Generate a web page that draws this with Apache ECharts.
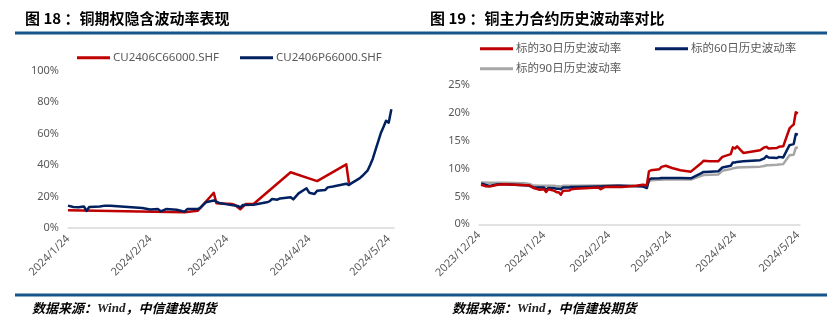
<!DOCTYPE html>
<html><head><meta charset="utf-8">
<script src="https://cdn.jsdelivr.net/npm/echarts@6/dist/echarts.min.js"></script>
<style>html,body{margin:0;padding:0;background:#fff}#c{width:836px;height:330px}</style>
</head><body><div id="c"></div>
<script>
// ---- Left chart: implied volatility of copper options (%)
const callDates = ['2024-01-24','2024-02-20','2024-03-08','2024-03-13','2024-03-19','2024-03-20','2024-03-26','2024-03-27','2024-03-29','2024-03-31','2024-04-03','2024-04-17','2024-04-27','2024-05-08','2024-05-09'];
const callIV    = [11.2, 10.5, 10.0, 11.0, 22.4, 15.7, 15.2, 14.6, 11.9, 15.2, 15.2, 35.4, 29.8, 40.4, 28.4];

const putDates = ['2024-01-24','2024-01-26','2024-01-28','2024-01-30','2024-01-31','2024-02-01','2024-02-05','2024-02-07','2024-02-09','2024-02-21','2024-02-24','2024-02-27','2024-02-28','2024-03-01','2024-03-05','2024-03-08','2024-03-09','2024-03-13','2024-03-14','2024-03-16','2024-03-19','2024-03-21','2024-03-24','2024-03-28','2024-03-29','2024-03-30','2024-04-03','2024-04-08','2024-04-09','2024-04-10','2024-04-12','2024-04-13','2024-04-17','2024-04-18','2024-04-20','2024-04-23','2024-04-24','2024-04-26','2024-04-27','2024-04-30','2024-05-01','2024-05-03','2024-05-08','2024-05-09','2024-05-10','2024-05-13','2024-05-14','2024-05-16','2024-05-17','2024-05-18','2024-05-19','2024-05-21','2024-05-22','2024-05-23','2024-05-24','2024-05-25'];
const putIV    = [14.2, 13.3, 13.2, 13.7, 10.8, 13.3, 13.7, 14.2, 14.1, 12.7, 11.8, 12.0, 10.6, 12.0, 11.6, 10.4, 12.0, 12.0, 12.9, 16.3, 17.5, 15.9, 15.0, 14.0, 13.1, 14.6, 14.8, 16.3, 16.9, 18.4, 18.0, 18.8, 19.5, 18.2, 22.0, 25.2, 22.4, 21.6, 23.7, 24.1, 25.8, 26.4, 28.1, 27.3, 28.5, 31.5, 33.0, 36.4, 40.0, 44.0, 49.5, 60.1, 64.0, 68.1, 66.9, 75.4];

const leftTicks = ['2024-01-24','2024-02-24','2024-03-24','2024-04-24','2024-05-24'];

// ---- Right chart: historical volatility of main copper contract (%)
const hvDates = ['2023-12-25','2023-12-27','2023-12-29','2024-01-02','2024-01-05','2024-01-10','2024-01-15','2024-01-17','2024-01-19','2024-01-22','2024-01-24','2024-01-25','2024-01-26','2024-01-29','2024-01-30','2024-01-31','2024-02-01','2024-02-02','2024-02-05','2024-02-06','2024-02-08','2024-02-19','2024-02-20','2024-02-22','2024-02-28','2024-03-01','2024-03-08','2024-03-11','2024-03-13','2024-03-14','2024-03-15','2024-03-19','2024-03-20','2024-03-22','2024-03-25','2024-03-29','2024-04-03','2024-04-08','2024-04-09','2024-04-12','2024-04-16','2024-04-18','2024-04-22','2024-04-23','2024-04-24','2024-04-25','2024-04-28','2024-05-06','2024-05-08','2024-05-09','2024-05-10','2024-05-14','2024-05-15','2024-05-17','2024-05-20','2024-05-21','2024-05-22','2024-05-23','2024-05-24'];
const hv30 = [7.1, 6.85, 6.8, 7.1, 7.2, 7.1, 7.0, 7.0, 6.5, 6.2, 6.3, 5.8, 6.3, 6.0, 5.75, 5.75, 5.3, 6.0, 6.05, 6.3, 6.4, 6.6, 6.3, 6.7, 6.75, 6.7, 6.9, 7.1, 7.0, 9.5, 9.7, 9.9, 10.3, 10.5, 10.1, 9.7, 9.45, 11.0, 11.4, 11.3, 11.3, 12.1, 12.6, 13.8, 13.6, 14.0, 12.8, 13.3, 13.8, 13.9, 13.6, 13.7, 13.9, 14.0, 17.2, 17.6, 17.9, 20.1, 19.9];
const hv60 = [7.35, 7.1, 6.9, 7.2, 7.2, 7.1, 7.0, 6.9, 6.6, 6.6, 6.6, 6.2, 6.5, 6.45, 6.4, 6.4, 6.3, 6.6, 6.6, 6.7, 6.7, 6.8, 6.8, 6.85, 6.9, 6.9, 6.85, 6.8, 6.5, 8.0, 8.2, 8.25, 8.3, 8.3, 8.3, 8.3, 8.25, 9.2, 9.4, 9.45, 9.5, 10.2, 10.5, 11.1, 11.1, 11.2, 11.3, 11.5, 11.85, 12.25, 12.0, 11.9, 12.1, 12.0, 14.2, 14.3, 14.4, 16.2, 16.1];
const hv90 = [7.5, 7.5, 7.45, 7.45, 7.45, 7.4, 7.35, 7.25, 6.95, 6.9, 6.9, 6.9, 6.9, 6.9, 6.85, 6.85, 6.8, 6.9, 6.9, 6.9, 6.9, 6.95, 6.95, 7.0, 7.0, 6.95, 6.9, 6.9, 6.7, 7.7, 7.9, 8.0, 8.0, 8.05, 8.05, 8.05, 8.05, 8.7, 8.85, 8.9, 8.95, 9.6, 9.9, 10.05, 10.1, 10.2, 10.25, 10.35, 10.45, 10.6, 10.6, 10.7, 10.75, 10.8, 12.4, 12.45, 12.5, 13.75, 13.8];

const rightTicks = ['2023-12-24','2024-01-24','2024-02-24','2024-03-24','2024-04-24','2024-05-24'];

const titles = ['图 18 ：铜期权隐含波动率表现', '图 19 ：铜主力合约历史波动率对比'];
const seriesNames = ['CU2406C66000.SHF', 'CU2406P66000.SHF', '标的30日历史波动率', '标的60日历史波动率', '标的90日历史波动率'];

function ts(s) { const p = s.split('-'); return new Date(+p[0], +p[1] - 1, +p[2]).getTime(); }
function pairs(d, v) { return d.map((x, i) => [ts(x), v[i]]); }
function fmt(v) { const d = new Date(v); return d.getFullYear() + '/' + (d.getMonth() + 1) + '/' + d.getDate(); }

const FONT = '"Noto Sans", "Noto Sans CJK SC", sans-serif';
const CJK = '"Noto Sans CJK SC", sans-serif';
const GREY = '#595959';
const RED = '#C00000', NAVY = '#002060', LGREY = '#A6A6A6';
const BAR = '#17568A';

function xAx(gi, min, max, ticks) {
  return {
    type: 'value', gridIndex: gi, min: ts(min), max: ts(max), scale: true,
    axisLine: { show: true, onZero: false, lineStyle: { color: '#D9D9D9', width: 1.5 } },
    axisTick: { show: false }, splitLine: { show: false },
    axisLabel: { customValues: ticks.map(ts), formatter: fmt, rotate: 45, color: GREY, fontSize: 11, fontFamily: FONT, margin: 9, hideOverlap: false, showMinLabel: true, showMaxLabel: true }
  };
}
function yAx(gi, max, interval) {
  return {
    type: 'value', gridIndex: gi, min: 0, max: max, interval: interval,
    axisLine: { show: false }, axisTick: { show: false }, splitLine: { show: false },
    axisLabel: { formatter: '{value}%', color: GREY, fontSize: 11, fontFamily: FONT, margin: 9 }
  };
}
function line(name, gi, data, color, w) {
  return { name: name, type: 'line', xAxisIndex: gi, yAxisIndex: gi, data: data, showSymbol: false, symbol: 'none',
    lineStyle: { color: color, width: w, join: 'round' }, itemStyle: { color: color }, animation: false };
}
function leg(name, left, top) {
  return { data: [name], left: left, top: top, padding: 0, icon: 'rect', itemWidth: 33, itemHeight: 3, itemGap: 0,
    textStyle: { color: GREY, fontSize: 11.5, fontFamily: FONT, padding: [0, 0, 0, -2] } };
}
function foot(left) {
  return { left: left, top: 302, padding: 0,
    text: '{a|数据来源：}{b|Wind}{a|，中信建投期货}',
    textStyle: { rich: {
      a: { fontFamily: CJK, fontStyle: 'italic', fontWeight: 'bold', fontSize: 13, color: '#000' },
      b: { fontFamily: '"Liberation Serif", serif', fontStyle: 'italic', fontSize: 13, color: '#222' }
    } } };
}

const chart = echarts.init(document.getElementById('c'), null, { renderer: 'canvas' });
chart.setOption({
  backgroundColor: '#fff',
  animation: false,
  title: [
    { text: titles[0], left: 25, top: 11, padding: 0, textStyle: { fontFamily: CJK, fontWeight: 'bold', fontSize: 15, color: '#000' } },
    { text: titles[1], left: 430, top: 11, padding: 0, textStyle: { fontFamily: CJK, fontWeight: 'bold', fontSize: 15, color: '#000' } },
    foot(32), foot(452)
  ],
  graphic: [
    { type: 'rect', shape: { x: 15, y: 31.5, width: 812, height: 3 }, style: { fill: BAR }, silent: true },
    { type: 'rect', shape: { x: 15, y: 293.5, width: 812, height: 3 }, style: { fill: BAR }, silent: true }
  ],
  legend: [
    leg(seriesNames[0], 77, 52), leg(seriesNames[1], 240, 52),
    leg(seriesNames[2], 480, 43), leg(seriesNames[3], 655, 43), leg(seriesNames[4], 480, 63)
  ],
  grid: [
    { left: 68, top: 70.5, width: 326, height: 157.5 },
    { left: 479, top: 85, width: 321, height: 139.3 }
  ],
  xAxis: [xAx(0, '2024-01-24', '2024-05-26', leftTicks), xAx(1, '2023-12-24', '2024-05-25', rightTicks)],
  yAxis: [yAx(0, 100, 20), yAx(1, 25, 5)],
  series: [
    line(seriesNames[0], 0, pairs(callDates, callIV), RED, 2.5),
    line(seriesNames[1], 0, pairs(putDates, putIV), NAVY, 2.5),
    line(seriesNames[4], 1, pairs(hvDates, hv90), LGREY, 2.5),
    line(seriesNames[3], 1, pairs(hvDates, hv60), NAVY, 2.5),
    line(seriesNames[2], 1, pairs(hvDates, hv30), RED, 2.5)
  ]
});
</script>
</body></html>
